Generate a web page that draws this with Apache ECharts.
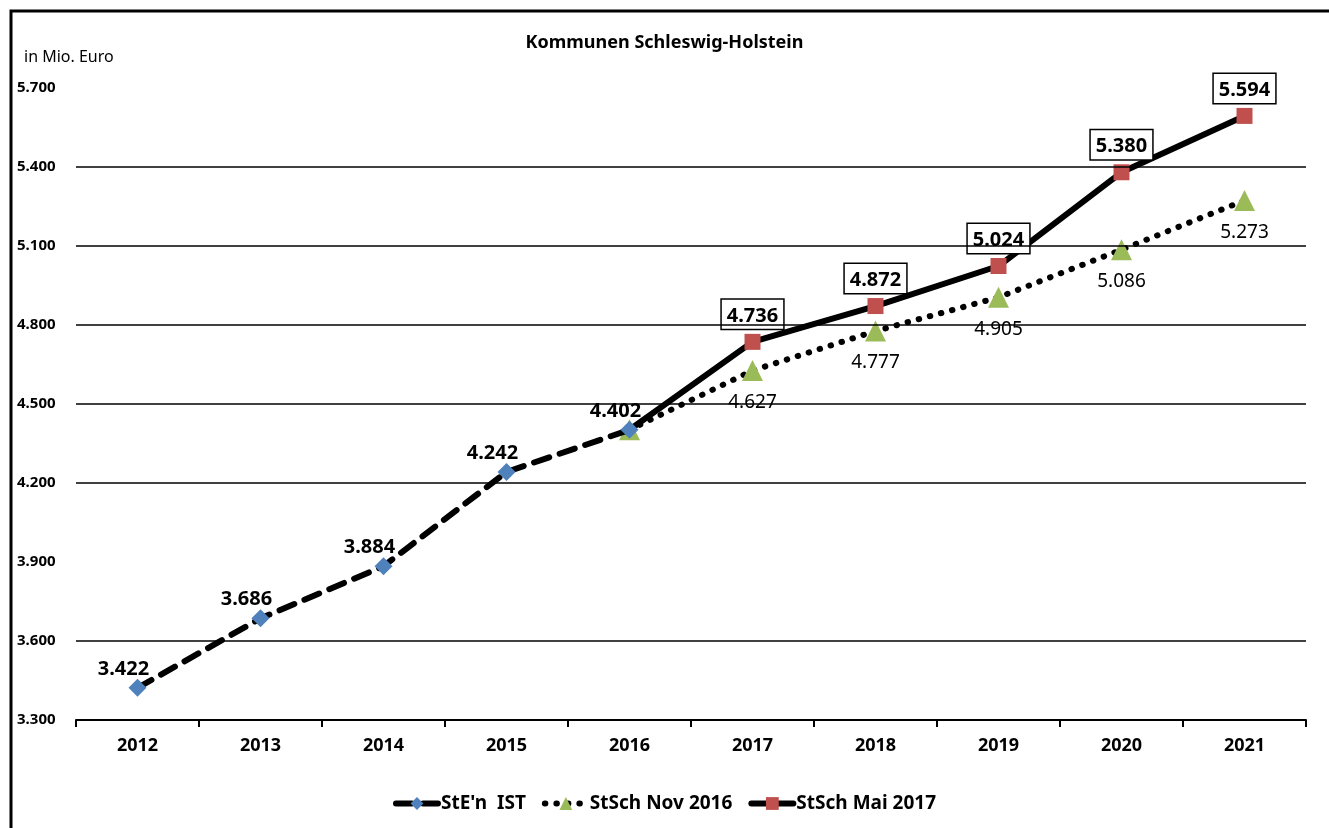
<!DOCTYPE html>
<html lang="de" style="height: 100%">
<head>
  <meta charset="utf-8">
</head>
<body style="height: 100%; margin: 0; background: #fff">
  <div id="container" style="width: 1329px; height: 828px"></div>

  <script type="text/javascript" src="https://cdn.jsdelivr.net/npm/echarts@6/dist/echarts.min.js"></script>

  <script type="text/javascript">
    var dom = document.getElementById('container');
    var myChart = echarts.init(dom, null, { renderer: 'canvas' });

    // Daten (in Mio. Euro)
    const years = ['2012', '2013', '2014', '2015', '2016', '2017', '2018', '2019', '2020', '2021'];
    const istValues = [3422, 3686, 3884, 4242, 4402, null, null, null, null, null];
    const nov2016Values = [null, null, null, null, 4402, 4627, 4777, 4905, 5086, 5273];
    const mai2017Values = [null, null, null, null, 4402, 4736, 4872, 5024, 5380, 5594];
    const gridValues = [3600, 4200, 4500, 4800, 5100, 5400];
    const seriesNames = ["StE'n  IST", 'StSch Nov 2016', 'StSch Mai 2017'];
    // 2016 ist der gemeinsame Startpunkt, Beschriftung nur bei IST
    const startIndex = 4;

    const FONT = '"Noto Sans", "Open Sans", sans-serif';

    function fmt(v) {
      const t = Math.floor(v / 1000);
      const r = String(v % 1000).padStart(3, '0');
      return t + '.' + r;
    }

    function hideStart(values, hideSymbol) {
      return values.map(function (v, i) {
        if (i !== startIndex) return v;
        const item = { value: v, label: { show: false } };
        if (hideSymbol) item.symbolSize = 0;
        return item;
      });
    }

    const option = {
      backgroundColor: '#fff',
      animation: false,
      title: {
        text: 'Kommunen Schleswig-Holstein',
        left: 'center',
        top: 29,
        textStyle: { fontFamily: FONT, fontSize: 18, fontWeight: 'bold', color: '#000' }
      },
      graphic: [
        {
          type: 'rect',
          shape: { x: 11, y: 11, width: 1400, height: 900 },
          style: { fill: 'none', stroke: '#000', lineWidth: 3 },
          silent: true
        },
        {
          type: 'text',
          left: 24,
          top: 49,
          style: { text: 'in Mio. Euro', font: '16px ' + FONT, fill: '#000' }
        }
      ],
      legend: {
        bottom: 10,
        left: 'center',
        itemWidth: 42,
        itemHeight: 16,
        itemGap: 16,
        lineStyle: { width: 6, cap: 'round' },
        textStyle: { fontFamily: FONT, fontSize: 19, fontWeight: 'bold', color: '#000', padding: [0, 0, 0, -2] },
        data: seriesNames
      },
      grid: { left: 76, right: 23, top: 88, bottom: 108 },
      xAxis: {
        type: 'category',
        data: years,
        boundaryGap: true,
        axisLine: { lineStyle: { color: '#000', width: 2 } },
        axisTick: { show: true, length: 7, lineStyle: { color: '#000', width: 2 } },
        axisLabel: { margin: 17, fontFamily: FONT, fontSize: 18, fontWeight: 'bold', color: '#000' }
      },
      yAxis: {
        type: 'value',
        min: 3300,
        max: 5700,
        interval: 300,
        axisLine: { show: false },
        axisTick: { show: false },
        splitLine: { show: false },
        axisLabel: {
          align: 'left',
          margin: 59,
          fontFamily: FONT,
          fontSize: 15,
          fontWeight: 'bold',
          color: '#000',
          formatter: fmt
        }
      },
      series: [
        {
          name: 'grid',
          type: 'line',
          data: [],
          z: 1,
          silent: true,
          markLine: {
            symbol: 'none',
            silent: true,
            label: { show: false },
            lineStyle: { color: '#000', width: 1.5, type: 'solid' },
            data: gridValues.map(function (v) { return { yAxis: v }; })
          }
        },
        {
          name: seriesNames[1],
          type: 'line',
          z: 3,
          data: hideStart(nov2016Values, false),
          symbol: 'triangle',
          symbolSize: 21,
          itemStyle: { color: '#9BBB59' },
          lineStyle: { color: '#000', width: 6, type: [0.5, 11], cap: 'round' },
          label: {
            show: true,
            position: 'bottom',
            distance: 12,
            fontFamily: FONT,
            fontSize: 19,
            color: '#000',
            backgroundColor: '#fff',
            padding: [0, 4],
            formatter: function (p) { return fmt(p.value); }
          }
        },
        {
          name: seriesNames[2],
          type: 'line',
          z: 4,
          data: hideStart(mai2017Values, true),
          symbol: 'rect',
          symbolSize: 16,
          itemStyle: { color: '#C0504D' },
          lineStyle: { color: '#000', width: 6, type: 'solid' },
          label: {
            show: true,
            position: 'top',
            distance: 5,
            fontFamily: FONT,
            fontSize: 20,
            fontWeight: 'bold',
            color: '#000',
            backgroundColor: '#fff',
            borderColor: '#000',
            borderWidth: 1.5,
            padding: [6, 5, 3, 5],
            formatter: function (p) { return fmt(p.value); }
          }
        },
        {
          name: seriesNames[0],
          type: 'line',
          z: 5,
          data: istValues,
          symbol: 'diamond',
          symbolSize: 18,
          itemStyle: { color: '#4F81BD' },
          lineStyle: { color: '#000', width: 6, type: [16, 11], cap: 'round' },
          label: {
            show: true,
            position: 'top',
            distance: 3,
            offset: [-14, 3],
            fontFamily: FONT,
            fontSize: 20,
            fontWeight: 'bold',
            color: '#000',
            formatter: function (p) { return fmt(p.value); }
          }
        }
      ]
    };

    myChart.setOption(option);
    window.addEventListener('resize', myChart.resize);
  </script>
</body>
</html>
